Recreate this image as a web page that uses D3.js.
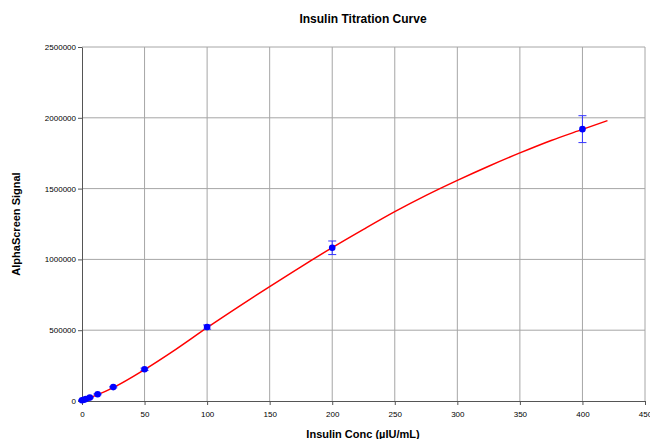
<!DOCTYPE html>
<html>
<head>
<meta charset="utf-8">
<script src="https://cdn.jsdelivr.net/npm/d3@7"></script>
<style>
  body { margin: 0; background: #fff; }
  svg { display: block; font-family: "Liberation Sans", Arial, sans-serif; }
</style>
</head>
<body>
<svg id="chart" width="650" height="439"></svg>
<script>
// measured points
const conc = [0, 1.5625, 3.125, 6.25, 12.5, 25, 50, 100, 200, 400];
const signal = [5000, 9000, 14000, 24000, 48000, 98000, 224000, 522000, 1082000, 1920000];
const errs = [2000, 2000, 2000, 3000, 4000, 5000, 8000, 15000, 48000, 95000];

// fitted curve
const fitX = [0, 12.5, 25, 50, 75, 100, 125, 150, 175, 200, 225, 250, 275, 300, 325, 350, 375, 400, 420];
const fitY = [5000, 45000, 95000, 222000, 365000, 518000, 665000, 808000, 948000, 1083000, 1212000, 1337000, 1452000, 1558000, 1658000, 1752000, 1840000, 1918000, 1980000];

const xTicks = d3.range(0, 451, 50);
const yTicks = d3.range(0, 2500001, 500000);

const svg = d3.select('#chart');
const mLeft = 82, mRight = 645, mTop = 47, mBottom = 401;

const x = d3.scaleLinear().domain([0, 450]).range([mLeft, mRight]);
const y = d3.scaleLinear().domain([0, 2500000]).range([mBottom, mTop]);

// grid
svg.append('g')
  .selectAll('line')
  .data(xTicks.slice(1))
  .enter()
  .append('line')
  .attr('x1', d => x(d)).attr('x2', d => x(d))
  .attr('y1', mTop).attr('y2', mBottom)
  .attr('stroke', '#a6a6a6').attr('stroke-width', 1);

svg.append('g')
  .selectAll('line')
  .data(yTicks.slice(1))
  .enter()
  .append('line')
  .attr('x1', mLeft).attr('x2', mRight)
  .attr('y1', d => y(d)).attr('y2', d => y(d))
  .attr('stroke', '#a6a6a6').attr('stroke-width', 1);

// axes
const xAxis = svg.append('g')
  .attr('transform', 'translate(0,' + mBottom + ')')
  .call(d3.axisBottom(x).tickValues(xTicks).tickSize(4).tickPadding(6).tickSizeOuter(0));
const yAxis = svg.append('g')
  .attr('transform', 'translate(' + mLeft + ',0)')
  .call(d3.axisLeft(y).tickValues(yTicks).tickSize(4).tickPadding(2).tickSizeOuter(0).tickFormat(d3.format('d')));

[xAxis, yAxis].forEach(a => {
  a.select('.domain').attr('stroke', '#555');
  a.selectAll('.tick line').attr('stroke', '#555');
  a.selectAll('.tick text').attr('font-size', 8).attr('fill', '#000')
    .attr('font-family', '"Liberation Sans", Arial, sans-serif');
});

// fit line
const line = d3.line()
  .x((d, i) => x(fitX[i]))
  .y(d => y(d))
  .curve(d3.curveMonotoneX);

svg.append('path')
  .datum(fitY)
  .attr('d', line)
  .attr('fill', 'none')
  .attr('stroke', '#ff0000')
  .attr('stroke-width', 1.5);

// error bars
const eb = svg.append('g').attr('stroke', '#3333ff').attr('stroke-width', 1);
conc.forEach((c, i) => {
  const cx = x(c);
  const y1 = y(signal[i] + errs[i]), y2 = y(signal[i] - errs[i]);
  eb.append('line').attr('x1', cx).attr('x2', cx).attr('y1', y1).attr('y2', y2);
  eb.append('line').attr('x1', cx - 4).attr('x2', cx + 4).attr('y1', y1).attr('y2', y1);
  eb.append('line').attr('x1', cx - 4).attr('x2', cx + 4).attr('y1', y2).attr('y2', y2);
});

// points
svg.append('g')
  .selectAll('circle')
  .data(signal)
  .enter()
  .append('circle')
  .attr('cx', (d, i) => x(conc[i]))
  .attr('cy', d => y(d))
  .attr('r', 3.3)
  .attr('fill', '#0000ff');

// titles
svg.append('text')
  .attr('x', 363).attr('y', 23)
  .attr('text-anchor', 'middle')
  .attr('font-size', 12).attr('font-weight', 'bold')
  .text('Insulin Titration Curve');

svg.append('text')
  .attr('x', 363).attr('y', 438)
  .attr('text-anchor', 'middle')
  .attr('font-size', 11).attr('font-weight', 'bold')
  .text('Insulin Conc (µIU/mL)');

svg.append('text')
  .attr('transform', 'translate(20,224) rotate(-90)')
  .attr('text-anchor', 'middle')
  .attr('font-size', 11).attr('font-weight', 'bold')
  .text('AlphaScreen Signal');
</script>
</body>
</html>
